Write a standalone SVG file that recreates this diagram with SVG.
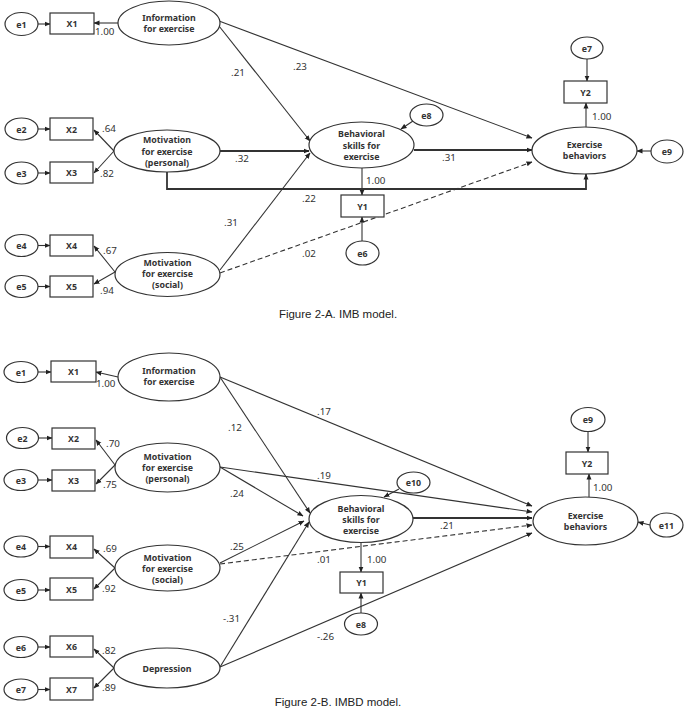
<svg xmlns="http://www.w3.org/2000/svg" width="685" height="709" viewBox="0 0 685 709">
<defs>
<marker id="ah" markerWidth="6" markerHeight="6" refX="5.5" refY="3" orient="auto" markerUnits="userSpaceOnUse">
<path d="M0,0.5 L6,3 L0,5.5 z" fill="#222"/>
</marker>
<style>
.n{fill:#fff;stroke:#333;stroke-width:1.2}
.t{font-family:"Noto Sans","Open Sans",sans-serif;font-size:8.8px;font-weight:bold;fill:#333;text-anchor:middle}
.c{fill:none;stroke:#333;stroke-width:1.1;marker-end:url(#ah)}
.k{stroke-width:1.8}
.d{stroke-dasharray:5,3}
.l{font-family:"Noto Sans","Open Sans",sans-serif;font-size:9.8px;fill:#333}
.cap{font-family:"Liberation Sans",Arial,sans-serif;font-size:11.5px;fill:#222;text-anchor:middle}
</style>
</defs>
<rect width="685" height="709" fill="#fff"/>

<!-- ===== Figure 2-A ===== -->
<g id="connectors-a">
<line class="c" x1="38" y1="24" x2="50" y2="24"/>
<line class="c" x1="118" y1="23" x2="94" y2="23"/>
<line class="c" x1="38" y1="129" x2="50" y2="129"/>
<line class="c" x1="114" y1="151" x2="94" y2="130"/>
<line class="c" x1="114" y1="151" x2="94" y2="173"/>
<line class="c" x1="38" y1="173" x2="50" y2="173"/>
<line class="c" x1="38" y1="245.5" x2="50" y2="245.5"/>
<line class="c" x1="115" y1="272" x2="94" y2="246"/>
<line class="c" x1="115" y1="272" x2="94" y2="284"/>
<line class="c" x1="38" y1="286.5" x2="50" y2="286.5"/>
<line class="c" x1="219" y1="21" x2="532" y2="138"/>
<line class="c" x1="219" y1="26" x2="310" y2="141"/>
<line class="c k" x1="220" y1="151" x2="309" y2="151"/>
<line class="c k" x1="414" y1="150" x2="532" y2="150"/>
<path class="c k" d="M167,172 V189 H586 V174"/>
<line class="c" x1="220" y1="270" x2="310" y2="153"/>
<line class="c d" x1="220" y1="273" x2="532" y2="162"/>
<line class="c" x1="362" y1="168" x2="362" y2="195"/>
<line class="c" x1="362" y1="241" x2="362" y2="217"/>
<line class="c" x1="413" y1="121" x2="401" y2="129"/>
<line class="c" x1="586" y1="127" x2="586" y2="103"/>
<line class="c" x1="587" y1="59" x2="587" y2="81"/>
<line class="c" x1="651" y1="151" x2="637" y2="151"/>
</g>

<g id="a-e1"><ellipse class="n" cx="21.5" cy="24" rx="16.5" ry="11.5"/><text class="t" x="21.5" y="27.5">e1</text></g>
<g id="a-X1"><rect class="n" x="50" y="13" width="44" height="21"/><text class="t" x="72" y="27">X1</text></g>
<g id="a-info"><ellipse class="n" cx="169" cy="23" rx="51" ry="22"/><text class="t" x="169" y="21">Information</text><text class="t" x="169" y="32">for exercise</text></g>
<g id="a-e2"><ellipse class="n" cx="21.5" cy="129" rx="16.5" ry="11"/><text class="t" x="21.5" y="132.5">e2</text></g>
<g id="a-X2"><rect class="n" x="50" y="118" width="43" height="22"/><text class="t" x="71.5" y="132.5">X2</text></g>
<g id="a-pers"><ellipse class="n" cx="167" cy="151" rx="53" ry="21"/><text class="t" x="167" y="143">Motivation</text><text class="t" x="167" y="154.5">for exercise</text><text class="t" x="167" y="165.5">(personal)</text></g>
<g id="a-e3"><ellipse class="n" cx="21.5" cy="173" rx="16.5" ry="11"/><text class="t" x="21.5" y="176.5">e3</text></g>
<g id="a-X3"><rect class="n" x="50" y="162" width="43" height="21"/><text class="t" x="71.5" y="176">X3</text></g>
<g id="a-e4"><ellipse class="n" cx="21.5" cy="245.5" rx="16.5" ry="11"/><text class="t" x="21.5" y="249">e4</text></g>
<g id="a-X4"><rect class="n" x="50" y="235" width="43" height="21"/><text class="t" x="71.5" y="249">X4</text></g>
<g id="a-e5"><ellipse class="n" cx="21.5" cy="286.5" rx="16.5" ry="11"/><text class="t" x="21.5" y="290">e5</text></g>
<g id="a-X5"><rect class="n" x="50" y="276" width="43" height="21"/><text class="t" x="71.5" y="290">X5</text></g>
<g id="a-soc"><ellipse class="n" cx="167.5" cy="274.5" rx="52.5" ry="22"/><text class="t" x="167.5" y="265.7">Motivation</text><text class="t" x="167.5" y="276.7">for exercise</text><text class="t" x="167.5" y="287.7">(social)</text></g>
<g id="a-beh"><ellipse class="n" cx="361.5" cy="145" rx="52.5" ry="23"/><text class="t" x="361.5" y="137">Behavioral</text><text class="t" x="361.5" y="149">skills for</text><text class="t" x="361.5" y="159.5">exercise</text></g>
<g id="a-e8"><ellipse class="n" cx="426.5" cy="115" rx="16.5" ry="11"/><text class="t" x="426.5" y="118.5">e8</text></g>
<g id="a-Y1"><rect class="n" x="341" y="195" width="43" height="22"/><text class="t" x="362.5" y="209.5">Y1</text></g>
<g id="a-e6"><ellipse class="n" cx="362.5" cy="253" rx="16.5" ry="12"/><text class="t" x="362.5" y="256.5">e6</text></g>
<g id="a-exb"><ellipse class="n" cx="584.5" cy="150.5" rx="52.5" ry="23.5"/><text class="t" x="584.5" y="147.5">Exercise</text><text class="t" x="584.5" y="158.5">behaviors</text></g>
<g id="a-Y2"><rect class="n" x="564" y="81" width="43" height="22"/><text class="t" x="585.5" y="95.5">Y2</text></g>
<g id="a-e7"><ellipse class="n" cx="587" cy="48" rx="16" ry="11"/><text class="t" x="587" y="51.5">e7</text></g>
<g id="a-e9"><ellipse class="n" cx="667" cy="151.5" rx="16" ry="11.5"/><text class="t" x="667" y="155">e9</text></g>

<g id="labels-a">
<text class="l" x="95" y="35">1.00</text>
<text class="l" x="231" y="75.5">.21</text>
<text class="l" x="293" y="69.5">.23</text>
<text class="l" x="102" y="131.5">.64</text>
<text class="l" x="235" y="162">.32</text>
<text class="l" x="100" y="176.5">.82</text>
<text class="l" x="442" y="160.5">.31</text>
<text class="l" x="366" y="183.5">1.00</text>
<text class="l" x="592" y="119.5">1.00</text>
<text class="l" x="302" y="201.5">.22</text>
<text class="l" x="224" y="225.5">.31</text>
<text class="l" x="302" y="256.5">.02</text>
<text class="l" x="103" y="253.5">.67</text>
<text class="l" x="100" y="293.5">.94</text>
<text class="cap" x="338" y="318">Figure 2-A. IMB model.</text>
</g>

<!-- ===== Figure 2-B ===== -->
<g id="connectors-b">
<line class="c" x1="38" y1="372" x2="51" y2="372"/>
<line class="c" x1="118" y1="377" x2="96" y2="372"/>
<line class="c" x1="38.5" y1="438" x2="52" y2="438"/>
<line class="c" x1="115" y1="465" x2="96" y2="440"/>
<line class="c" x1="115" y1="465" x2="96" y2="484"/>
<line class="c" x1="38" y1="480" x2="52" y2="480"/>
<line class="c" x1="38" y1="546.5" x2="50" y2="546.5"/>
<line class="c" x1="115" y1="568" x2="94" y2="549"/>
<line class="c" x1="115" y1="568" x2="94" y2="589"/>
<line class="c" x1="38" y1="590" x2="50" y2="590"/>
<line class="c" x1="38" y1="647" x2="50" y2="647"/>
<line class="c" x1="38" y1="689.5" x2="50" y2="689.5"/>
<line class="c" x1="114" y1="668" x2="94" y2="649"/>
<line class="c" x1="114" y1="668" x2="94" y2="688"/>
<line class="c" x1="220" y1="377" x2="532" y2="506"/>
<line class="c" x1="220" y1="377" x2="310" y2="513"/>
<line class="c" x1="220" y1="467" x2="532" y2="512"/>
<line class="c" x1="220" y1="467" x2="303" y2="516"/>
<line class="c k" x1="413" y1="518" x2="532" y2="518"/>
<line class="c" x1="220" y1="563" x2="304" y2="521"/>
<line class="c d" x1="220" y1="564" x2="532" y2="525"/>
<line class="c" x1="220" y1="667" x2="309" y2="522"/>
<line class="c" x1="220" y1="667" x2="532" y2="533"/>
<line class="c" x1="361" y1="543" x2="361" y2="572"/>
<line class="c" x1="361" y1="613" x2="361" y2="593"/>
<line class="c" x1="399" y1="489" x2="384" y2="497"/>
<line class="c" x1="589" y1="497" x2="589" y2="474"/>
<line class="c" x1="588" y1="431.5" x2="588" y2="452"/>
<line class="c" x1="650" y1="525" x2="638" y2="522"/>
</g>

<g id="b-e1"><ellipse class="n" cx="21" cy="372" rx="17" ry="10.5"/><text class="t" x="21" y="375.5">e1</text></g>
<g id="b-X1"><rect class="n" x="51" y="361" width="45" height="21"/><text class="t" x="73.5" y="375">X1</text></g>
<g id="b-info"><ellipse class="n" cx="169" cy="377" rx="51" ry="24"/><text class="t" x="169" y="373.5">Information</text><text class="t" x="169" y="385">for exercise</text></g>
<g id="b-e2"><ellipse class="n" cx="22.5" cy="438" rx="16" ry="10.5"/><text class="t" x="22.5" y="441.5">e2</text></g>
<g id="b-X2"><rect class="n" x="52" y="428" width="43" height="21"/><text class="t" x="73.5" y="442">X2</text></g>
<g id="b-e3"><ellipse class="n" cx="21" cy="480" rx="17" ry="10.5"/><text class="t" x="21" y="483.5">e3</text></g>
<g id="b-X3"><rect class="n" x="52" y="470" width="43" height="21"/><text class="t" x="73.5" y="484">X3</text></g>
<g id="b-pers"><ellipse class="n" cx="167.5" cy="467.5" rx="52.5" ry="24.5"/><text class="t" x="167.5" y="459.5">Motivation</text><text class="t" x="167.5" y="470.5">for exercise</text><text class="t" x="167.5" y="481.5">(personal)</text></g>
<g id="b-e4"><ellipse class="n" cx="21" cy="546.5" rx="17" ry="10.5"/><text class="t" x="21" y="550">e4</text></g>
<g id="b-X4"><rect class="n" x="50" y="536" width="43" height="22"/><text class="t" x="71.5" y="550">X4</text></g>
<g id="b-e5"><ellipse class="n" cx="21" cy="590" rx="17" ry="10.5"/><text class="t" x="21" y="593.5">e5</text></g>
<g id="b-X5"><rect class="n" x="50" y="578" width="43" height="22"/><text class="t" x="71.5" y="592.5">X5</text></g>
<g id="b-soc"><ellipse class="n" cx="167.5" cy="568" rx="52.5" ry="23"/><text class="t" x="167.5" y="561">Motivation</text><text class="t" x="167.5" y="572">for exercise</text><text class="t" x="167.5" y="583">(social)</text></g>
<g id="b-e6"><ellipse class="n" cx="21" cy="647" rx="17" ry="10.5"/><text class="t" x="21" y="650.5">e6</text></g>
<g id="b-X6"><rect class="n" x="50" y="636" width="43" height="21"/><text class="t" x="71.5" y="650">X6</text></g>
<g id="b-e7"><ellipse class="n" cx="21" cy="689.5" rx="17" ry="10.5"/><text class="t" x="21" y="693">e7</text></g>
<g id="b-X7"><rect class="n" x="50" y="678" width="43" height="22"/><text class="t" x="71.5" y="692.5">X7</text></g>
<g id="b-dep"><ellipse class="n" cx="167" cy="668" rx="53" ry="20"/><text class="t" x="167" y="672">Depression</text></g>
<g id="b-beh"><ellipse class="n" cx="361" cy="519" rx="52" ry="23.5"/><text class="t" x="361" y="512">Behavioral</text><text class="t" x="361" y="523">skills for</text><text class="t" x="361" y="534">exercise</text></g>
<g id="b-e10"><ellipse class="n" cx="413.5" cy="482.5" rx="16.5" ry="10.5"/><text class="t" x="413.5" y="486">e10</text></g>
<g id="b-Y1"><rect class="n" x="340" y="572" width="43" height="21"/><text class="t" x="361.5" y="586">Y1</text></g>
<g id="b-e8"><ellipse class="n" cx="361" cy="624" rx="16.5" ry="11"/><text class="t" x="361" y="627.5">e8</text></g>
<g id="b-exb"><ellipse class="n" cx="585.5" cy="521" rx="52.5" ry="24"/><text class="t" x="585.5" y="518.5">Exercise</text><text class="t" x="585.5" y="530">behaviors</text></g>
<g id="b-Y2"><rect class="n" x="566" y="452" width="42" height="22"/><text class="t" x="587" y="466.5">Y2</text></g>
<g id="b-e9"><ellipse class="n" cx="588" cy="419.5" rx="17" ry="12"/><text class="t" x="588" y="423">e9</text></g>
<g id="b-e11"><ellipse class="n" cx="666.5" cy="525" rx="16.5" ry="12"/><text class="t" x="666.5" y="528.5">e11</text></g>

<g id="labels-b">
<text class="l" x="96" y="386.5">1.00</text>
<text class="l" x="317" y="414.5">.17</text>
<text class="l" x="228" y="430.5">.12</text>
<text class="l" x="106" y="446.5">.70</text>
<text class="l" x="317" y="478.5">.19</text>
<text class="l" x="103" y="487.5">.75</text>
<text class="l" x="230" y="496.5">.24</text>
<text class="l" x="440" y="528.5">.21</text>
<text class="l" x="230" y="549.5">.25</text>
<text class="l" x="103" y="551.5">.69</text>
<text class="l" x="367" y="562.5">1.00</text>
<text class="l" x="317" y="562.5">.01</text>
<text class="l" x="102" y="591.5">.92</text>
<text class="l" x="223" y="621.5">-.31</text>
<text class="l" x="317" y="640">-.26</text>
<text class="l" x="102" y="653.5">.82</text>
<text class="l" x="102" y="690.5">.89</text>
<text class="l" x="593" y="490.5">1.00</text>
<text class="cap" x="338" y="706">Figure 2-B. IMBD model.</text>
</g>
</svg>
